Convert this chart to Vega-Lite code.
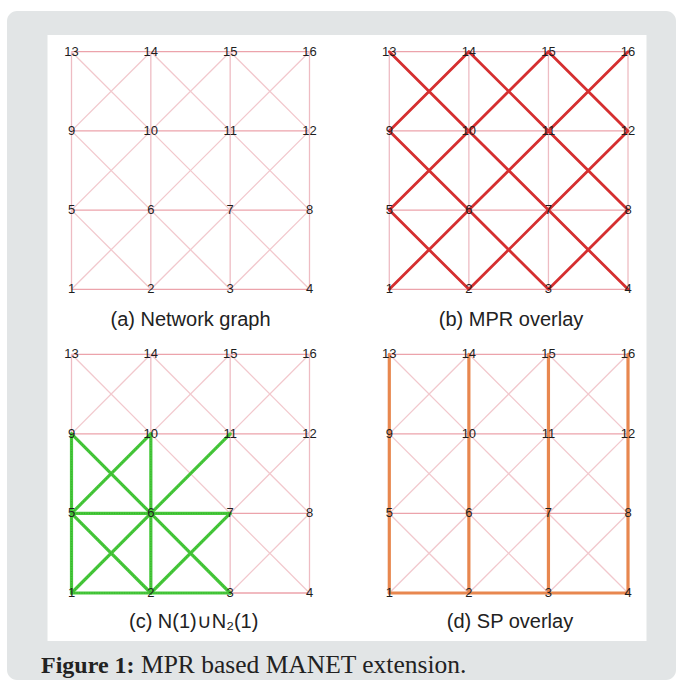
{
  "$schema": "https://vega.github.io/schema/vega-lite/v6.json",
  "width": 678,
  "height": 680,
  "autosize": {"type": "fit", "contains": "padding"},
  "padding": {"left": 7, "top": 11, "right": 2, "bottom": 0},
  "background": "#ffffff",
  "config": {"view": {"fill": "#e2e5e6", "stroke": null, "cornerRadius": 10}},
  "datasets": {
    "edges": [
      {"x": 0, "y": 0, "x2": 1, "y2": 0, "dir": "h"}, {"x": 1, "y": 0, "x2": 2, "y2": 0, "dir": "h"}, {"x": 2, "y": 0, "x2": 3, "y2": 0, "dir": "h"},
      {"x": 0, "y": 1, "x2": 1, "y2": 1, "dir": "h"}, {"x": 1, "y": 1, "x2": 2, "y2": 1, "dir": "h"}, {"x": 2, "y": 1, "x2": 3, "y2": 1, "dir": "h"},
      {"x": 0, "y": 2, "x2": 1, "y2": 2, "dir": "h"}, {"x": 1, "y": 2, "x2": 2, "y2": 2, "dir": "h"}, {"x": 2, "y": 2, "x2": 3, "y2": 2, "dir": "h"},
      {"x": 0, "y": 3, "x2": 1, "y2": 3, "dir": "h"}, {"x": 1, "y": 3, "x2": 2, "y2": 3, "dir": "h"}, {"x": 2, "y": 3, "x2": 3, "y2": 3, "dir": "h"},
      {"x": 0, "y": 0, "x2": 0, "y2": 1, "dir": "v"}, {"x": 0, "y": 1, "x2": 0, "y2": 2, "dir": "v"}, {"x": 0, "y": 2, "x2": 0, "y2": 3, "dir": "v"},
      {"x": 1, "y": 0, "x2": 1, "y2": 1, "dir": "v"}, {"x": 1, "y": 1, "x2": 1, "y2": 2, "dir": "v"}, {"x": 1, "y": 2, "x2": 1, "y2": 3, "dir": "v"},
      {"x": 2, "y": 0, "x2": 2, "y2": 1, "dir": "v"}, {"x": 2, "y": 1, "x2": 2, "y2": 2, "dir": "v"}, {"x": 2, "y": 2, "x2": 2, "y2": 3, "dir": "v"},
      {"x": 3, "y": 0, "x2": 3, "y2": 1, "dir": "v"}, {"x": 3, "y": 1, "x2": 3, "y2": 2, "dir": "v"}, {"x": 3, "y": 2, "x2": 3, "y2": 3, "dir": "v"},
      {"x": 0, "y": 0, "x2": 1, "y2": 1, "dir": "d"}, {"x": 1, "y": 0, "x2": 0, "y2": 1, "dir": "d"},
      {"x": 1, "y": 0, "x2": 2, "y2": 1, "dir": "d"}, {"x": 2, "y": 0, "x2": 1, "y2": 1, "dir": "d"},
      {"x": 2, "y": 0, "x2": 3, "y2": 1, "dir": "d"}, {"x": 3, "y": 0, "x2": 2, "y2": 1, "dir": "d"},
      {"x": 0, "y": 1, "x2": 1, "y2": 2, "dir": "d"}, {"x": 1, "y": 1, "x2": 0, "y2": 2, "dir": "d"},
      {"x": 1, "y": 1, "x2": 2, "y2": 2, "dir": "d"}, {"x": 2, "y": 1, "x2": 1, "y2": 2, "dir": "d"},
      {"x": 2, "y": 1, "x2": 3, "y2": 2, "dir": "d"}, {"x": 3, "y": 1, "x2": 2, "y2": 2, "dir": "d"},
      {"x": 0, "y": 2, "x2": 1, "y2": 3, "dir": "d"}, {"x": 1, "y": 2, "x2": 0, "y2": 3, "dir": "d"},
      {"x": 1, "y": 2, "x2": 2, "y2": 3, "dir": "d"}, {"x": 2, "y": 2, "x2": 1, "y2": 3, "dir": "d"},
      {"x": 2, "y": 2, "x2": 3, "y2": 3, "dir": "d"}, {"x": 3, "y": 2, "x2": 2, "y2": 3, "dir": "d"}
    ],
    "overlays": [
      {"panel": "b", "x": 0, "y": 0, "x2": 1, "y2": 1}, {"panel": "b", "x": 1, "y": 0, "x2": 0, "y2": 1},
      {"panel": "b", "x": 1, "y": 0, "x2": 2, "y2": 1}, {"panel": "b", "x": 2, "y": 0, "x2": 1, "y2": 1},
      {"panel": "b", "x": 2, "y": 0, "x2": 3, "y2": 1}, {"panel": "b", "x": 3, "y": 0, "x2": 2, "y2": 1},
      {"panel": "b", "x": 0, "y": 1, "x2": 1, "y2": 2}, {"panel": "b", "x": 1, "y": 1, "x2": 0, "y2": 2},
      {"panel": "b", "x": 1, "y": 1, "x2": 2, "y2": 2}, {"panel": "b", "x": 2, "y": 1, "x2": 1, "y2": 2},
      {"panel": "b", "x": 2, "y": 1, "x2": 3, "y2": 2}, {"panel": "b", "x": 3, "y": 1, "x2": 2, "y2": 2},
      {"panel": "b", "x": 0, "y": 2, "x2": 1, "y2": 3}, {"panel": "b", "x": 1, "y": 2, "x2": 0, "y2": 3},
      {"panel": "b", "x": 1, "y": 2, "x2": 2, "y2": 3}, {"panel": "b", "x": 2, "y": 2, "x2": 1, "y2": 3},
      {"panel": "b", "x": 2, "y": 2, "x2": 3, "y2": 3}, {"panel": "b", "x": 3, "y": 2, "x2": 2, "y2": 3},
      {"panel": "c", "x": 0, "y": 2, "x2": 0, "y2": 1}, {"panel": "c", "x": 0, "y": 1, "x2": 0, "y2": 0},
      {"panel": "c", "x": 1, "y": 2, "x2": 1, "y2": 1}, {"panel": "c", "x": 1, "y": 1, "x2": 1, "y2": 0},
      {"panel": "c", "x": 0, "y": 0, "x2": 1, "y2": 0}, {"panel": "c", "x": 1, "y": 0, "x2": 2, "y2": 0},
      {"panel": "c", "x": 0, "y": 1, "x2": 1, "y2": 1}, {"panel": "c", "x": 1, "y": 1, "x2": 2, "y2": 1},
      {"panel": "c", "x": 0, "y": 2, "x2": 1, "y2": 1}, {"panel": "c", "x": 1, "y": 2, "x2": 0, "y2": 1},
      {"panel": "c", "x": 1, "y": 1, "x2": 2, "y2": 2}, {"panel": "c", "x": 0, "y": 1, "x2": 1, "y2": 0},
      {"panel": "c", "x": 0, "y": 0, "x2": 1, "y2": 1}, {"panel": "c", "x": 1, "y": 1, "x2": 2, "y2": 0},
      {"panel": "c", "x": 1, "y": 0, "x2": 2, "y2": 1},
      {"panel": "d", "x": 0, "y": 0, "x2": 0, "y2": 1}, {"panel": "d", "x": 0, "y": 1, "x2": 0, "y2": 2}, {"panel": "d", "x": 0, "y": 2, "x2": 0, "y2": 3},
      {"panel": "d", "x": 1, "y": 0, "x2": 1, "y2": 1}, {"panel": "d", "x": 1, "y": 1, "x2": 1, "y2": 2}, {"panel": "d", "x": 1, "y": 2, "x2": 1, "y2": 3},
      {"panel": "d", "x": 2, "y": 0, "x2": 2, "y2": 1}, {"panel": "d", "x": 2, "y": 1, "x2": 2, "y2": 2}, {"panel": "d", "x": 2, "y": 2, "x2": 2, "y2": 3},
      {"panel": "d", "x": 3, "y": 0, "x2": 3, "y2": 1}, {"panel": "d", "x": 3, "y": 1, "x2": 3, "y2": 2}, {"panel": "d", "x": 3, "y": 2, "x2": 3, "y2": 3},
      {"panel": "d", "x": 0, "y": 0, "x2": 1, "y2": 0}, {"panel": "d", "x": 1, "y": 0, "x2": 2, "y2": 0}, {"panel": "d", "x": 2, "y": 0, "x2": 3, "y2": 0}
    ],
    "nodes": [
      {"id": "1", "x": 0, "y": 0}, {"id": "2", "x": 1, "y": 0}, {"id": "3", "x": 2, "y": 0}, {"id": "4", "x": 3, "y": 0},
      {"id": "5", "x": 0, "y": 1}, {"id": "6", "x": 1, "y": 1}, {"id": "7", "x": 2, "y": 1}, {"id": "8", "x": 3, "y": 1},
      {"id": "9", "x": 0, "y": 2}, {"id": "10", "x": 1, "y": 2}, {"id": "11", "x": 2, "y": 2}, {"id": "12", "x": 3, "y": 2},
      {"id": "13", "x": 0, "y": 3}, {"id": "14", "x": 1, "y": 3}, {"id": "15", "x": 2, "y": 3}, {"id": "16", "x": 3, "y": 3}
    ],
    "captions": [
      {"panel": "a", "label": "(a) Network graph", "x": 1.5, "y": -0.3876},
      {"panel": "b", "label": "(b) MPR overlay", "x": 1.53, "y": -0.3876},
      {"panel": "c", "label": "(c) N(1)∪N₂(1)", "x": 1.54, "y": -0.3707},
      {"panel": "d", "label": "(d) SP overlay", "x": 1.517, "y": -0.3707}
    ]
  },
  "layer": [
    {
      "encoding": {
        "x": {"field": "x", "type": "quantitative", "scale": {"domain": [-0.8131, 7.62], "nice": false, "zero": false}, "axis": null},
        "y": {"field": "y", "type": "quantitative", "scale": {"domain": [-4.9331, 3.5139], "nice": false, "zero": false}, "axis": null}
      },
      "layer": [
        {
          "data": {"values": [{"x": -0.3025, "x2": 7.248, "y": 3.2109, "y2": -4.4407}]},
          "mark": {"type": "rect", "color": "#ffffff"},
          "encoding": {"x2": {"field": "x2"}, "y2": {"field": "y2"}}
        },
        {
          "data": {"name": "edges"},
          "mark": {"type": "rule", "strokeWidth": 1.3},
          "encoding": {
            "x2": {"field": "x2"}, "y2": {"field": "y2"},
            "color": {"field": "dir", "type": "nominal", "scale": {"domain": ["h", "v", "d"], "range": ["#eca3ab", "#eebcc3", "#f2c8cd"]}, "legend": null}
          }
        },
        {
          "data": {"name": "nodes"},
          "mark": {"type": "text", "font": "Liberation Sans", "fontSize": 13, "color": "#1e1e1e", "align": "center", "baseline": "middle"},
          "encoding": {"text": {"field": "id"}}
        },
        {
          "data": {"name": "captions"},
          "transform": [{"filter": "datum.panel === 'a'"}],
          "mark": {"type": "text", "font": "Liberation Sans", "fontSize": 20, "color": "#222222", "align": "center", "baseline": "middle"},
          "encoding": {"text": {"field": "label"}}
        },
        {
          "data": {"values": [{"label": "Figure 1:", "x": -0.3845, "y": -4.8447}]},
          "mark": {"type": "text", "font": "Liberation Serif", "fontSize": 24, "fontWeight": "bold", "color": "#222222", "align": "left", "baseline": "alphabetic"},
          "encoding": {"text": {"field": "label"}}
        },
        {
          "data": {"values": [{"label": "MPR based MANET extension.", "x": 0.876, "y": -4.8447}]},
          "mark": {"type": "text", "font": "Liberation Serif", "fontSize": 25.5, "color": "#222222", "align": "left", "baseline": "alphabetic"},
          "encoding": {"text": {"field": "label"}}
        }
      ]
    },
    {
      "encoding": {
        "x": {"field": "x", "type": "quantitative", "scale": {"domain": [-4.8046, 3.6031], "nice": false, "zero": false}, "axis": null},
        "y": {"field": "y", "type": "quantitative", "scale": {"domain": [-4.9331, 3.5139], "nice": false, "zero": false}, "axis": null}
      },
      "layer": [
        {
          "data": {"name": "edges"},
          "mark": {"type": "rule", "strokeWidth": 1.3},
          "encoding": {
            "x2": {"field": "x2"}, "y2": {"field": "y2"},
            "color": {"field": "dir", "type": "nominal", "scale": {"domain": ["h", "v", "d"], "range": ["#eca3ab", "#eebcc3", "#f2c8cd"]}, "legend": null}
          }
        },
        {
          "data": {"name": "overlays"},
          "transform": [{"filter": "datum.panel === 'b'"}],
          "mark": {"type": "rule", "color": "#d52f30", "strokeWidth": 2.8, "strokeCap": "round"},
          "encoding": {"x2": {"field": "x2"}, "y2": {"field": "y2"}}
        },
        {
          "data": {"name": "nodes"},
          "mark": {"type": "text", "font": "Liberation Sans", "fontSize": 13, "color": "#1e1e1e", "align": "center", "baseline": "middle"},
          "encoding": {"text": {"field": "id"}}
        },
        {
          "data": {"name": "captions"},
          "transform": [{"filter": "datum.panel === 'b'"}],
          "mark": {"type": "text", "font": "Liberation Sans", "fontSize": 20, "color": "#222222", "align": "center", "baseline": "middle"},
          "encoding": {"text": {"field": "label"}}
        }
      ]
    },
    {
      "encoding": {
        "x": {"field": "x", "type": "quantitative", "scale": {"domain": [-0.8131, 7.62], "nice": false, "zero": false}, "axis": null},
        "y": {"field": "y", "type": "quantitative", "scale": {"domain": [-1.0934, 7.3143], "nice": false, "zero": false}, "axis": null}
      },
      "layer": [
        {
          "data": {"name": "edges"},
          "mark": {"type": "rule", "strokeWidth": 1.3},
          "encoding": {
            "x2": {"field": "x2"}, "y2": {"field": "y2"},
            "color": {"field": "dir", "type": "nominal", "scale": {"domain": ["h", "v", "d"], "range": ["#eca3ab", "#eebcc3", "#f2c8cd"]}, "legend": null}
          }
        },
        {
          "data": {"name": "overlays"},
          "transform": [{"filter": "datum.panel === 'c'"}],
          "mark": {"type": "rule", "color": "#48c93c", "strokeWidth": 3.2, "strokeCap": "round"},
          "encoding": {"x2": {"field": "x2"}, "y2": {"field": "y2"}}
        },
        {
          "data": {"name": "overlays"},
          "transform": [{"filter": "datum.panel === 'c'"}],
          "mark": {"type": "rule", "color": "#2ea82a", "strokeWidth": 1.2, "strokeDash": [1, 1.5], "opacity": 0.7},
          "encoding": {"x2": {"field": "x2"}, "y2": {"field": "y2"}}
        },
        {
          "data": {"name": "nodes"},
          "mark": {"type": "text", "font": "Liberation Sans", "fontSize": 13, "color": "#1e1e1e", "align": "center", "baseline": "middle"},
          "encoding": {"text": {"field": "id"}}
        },
        {
          "data": {"name": "captions"},
          "transform": [{"filter": "datum.panel === 'c'"}],
          "mark": {"type": "text", "font": "Liberation Sans", "fontSize": 20, "color": "#222222", "align": "center", "baseline": "middle"},
          "encoding": {"text": {"field": "label"}}
        }
      ]
    },
    {
      "encoding": {
        "x": {"field": "x", "type": "quantitative", "scale": {"domain": [-4.8046, 3.6031], "nice": false, "zero": false}, "axis": null},
        "y": {"field": "y", "type": "quantitative", "scale": {"domain": [-1.0934, 7.3143], "nice": false, "zero": false}, "axis": null}
      },
      "layer": [
        {
          "data": {"name": "edges"},
          "mark": {"type": "rule", "strokeWidth": 1.3},
          "encoding": {
            "x2": {"field": "x2"}, "y2": {"field": "y2"},
            "color": {"field": "dir", "type": "nominal", "scale": {"domain": ["h", "v", "d"], "range": ["#eca3ab", "#eebcc3", "#f2c8cd"]}, "legend": null}
          }
        },
        {
          "data": {"name": "overlays"},
          "transform": [{"filter": "datum.panel === 'd'"}],
          "mark": {"type": "rule", "color": "#e8874f", "strokeWidth": 3.2, "strokeCap": "round"},
          "encoding": {"x2": {"field": "x2"}, "y2": {"field": "y2"}}
        },
        {
          "data": {"name": "nodes"},
          "mark": {"type": "text", "font": "Liberation Sans", "fontSize": 13, "color": "#1e1e1e", "align": "center", "baseline": "middle"},
          "encoding": {"text": {"field": "id"}}
        },
        {
          "data": {"name": "captions"},
          "transform": [{"filter": "datum.panel === 'd'"}],
          "mark": {"type": "text", "font": "Liberation Sans", "fontSize": 20, "color": "#222222", "align": "center", "baseline": "middle"},
          "encoding": {"text": {"field": "label"}}
        }
      ]
    }
  ],
  "resolve": {"scale": {"x": "independent", "y": "independent"}}
}
